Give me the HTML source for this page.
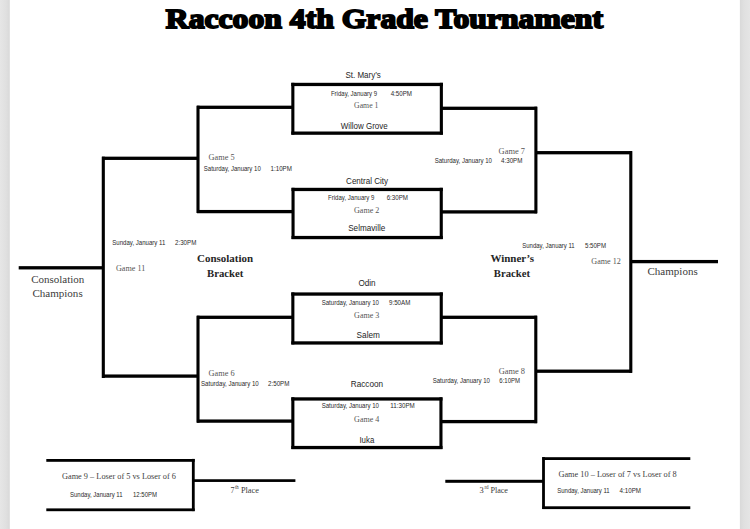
<!DOCTYPE html><html><head><meta charset="utf-8"><style>html,body{margin:0;padding:0;background:#fff;width:750px;height:529px;overflow:hidden}svg{display:block}</style></head><body>
<svg width="750" height="529" viewBox="0 0 750 529">
<rect x="0" y="0" width="750" height="529" fill="#fff"/>
<defs><linearGradient id="gl" x1="0" x2="1" y1="0" y2="0"><stop offset="0" stop-color="#e6e6e6"/><stop offset="0.6" stop-color="#e0e0e0"/><stop offset="1" stop-color="#d9d9d9"/></linearGradient><linearGradient id="gr" x1="0" x2="1" y1="0" y2="0"><stop offset="0" stop-color="#d9d9d9"/><stop offset="0.4" stop-color="#e0e0e0"/><stop offset="1" stop-color="#e5e5e5"/></linearGradient></defs>
<rect x="0" y="0" width="9.8" height="529" fill="url(#gl)"/>
<rect x="739.9" y="0" width="10.1" height="529" fill="url(#gr)"/>
<rect x="291.30" y="82.80" width="151.60" height="3.30" fill="#000"/>
<rect x="291.30" y="131.50" width="151.60" height="3.30" fill="#000"/>
<rect x="291.30" y="82.80" width="3.10" height="51.80" fill="#000"/>
<rect x="439.80" y="82.80" width="3.10" height="51.80" fill="#000"/>
<rect x="291.50" y="187.80" width="151.30" height="3.30" fill="#000"/>
<rect x="291.50" y="235.90" width="151.30" height="3.30" fill="#000"/>
<rect x="291.50" y="187.80" width="3.10" height="51.20" fill="#000"/>
<rect x="439.70" y="187.80" width="3.10" height="51.20" fill="#000"/>
<rect x="291.30" y="292.40" width="151.50" height="3.30" fill="#000"/>
<rect x="291.30" y="341.30" width="151.50" height="3.30" fill="#000"/>
<rect x="291.30" y="292.40" width="3.10" height="52.00" fill="#000"/>
<rect x="439.70" y="292.40" width="3.10" height="52.00" fill="#000"/>
<rect x="291.30" y="397.30" width="151.20" height="3.30" fill="#000"/>
<rect x="291.30" y="445.90" width="151.20" height="3.30" fill="#000"/>
<rect x="291.30" y="397.30" width="3.10" height="51.70" fill="#000"/>
<rect x="439.40" y="397.30" width="3.10" height="51.70" fill="#000"/>
<rect x="197.00" y="105.65" width="95.00" height="3.30" fill="#000"/>
<rect x="196.45" y="105.70" width="3.10" height="107.30" fill="#000"/>
<rect x="197.00" y="209.95" width="95.00" height="3.30" fill="#000"/>
<rect x="102.00" y="156.65" width="97.00" height="3.30" fill="#000"/>
<rect x="101.75" y="156.70" width="3.10" height="221.30" fill="#000"/>
<rect x="102.00" y="374.45" width="97.00" height="3.30" fill="#000"/>
<rect x="197.00" y="315.65" width="95.00" height="3.30" fill="#000"/>
<rect x="196.45" y="315.70" width="3.10" height="107.00" fill="#000"/>
<rect x="197.00" y="419.45" width="95.00" height="3.30" fill="#000"/>
<rect x="18.70" y="266.15" width="85.30" height="3.30" fill="#000"/>
<rect x="442.00" y="106.65" width="95.00" height="3.30" fill="#000"/>
<rect x="534.35" y="106.70" width="3.10" height="106.60" fill="#000"/>
<rect x="442.00" y="210.25" width="95.00" height="3.30" fill="#000"/>
<rect x="535.00" y="151.05" width="97.00" height="3.30" fill="#000"/>
<rect x="629.25" y="151.10" width="3.10" height="221.70" fill="#000"/>
<rect x="535.00" y="369.55" width="97.00" height="3.30" fill="#000"/>
<rect x="442.00" y="315.65" width="95.00" height="3.30" fill="#000"/>
<rect x="534.25" y="315.70" width="3.10" height="107.50" fill="#000"/>
<rect x="442.00" y="419.95" width="95.00" height="3.30" fill="#000"/>
<rect x="631.00" y="259.95" width="87.00" height="3.30" fill="#000"/>
<rect x="46.30" y="459.00" width="148.40" height="2.80" fill="#000"/>
<rect x="46.30" y="508.40" width="148.40" height="2.80" fill="#000"/>
<rect x="191.90" y="458.90" width="2.80" height="52.20" fill="#000"/>
<rect x="193.00" y="479.25" width="102.40" height="2.70" fill="#000"/>
<rect x="542.40" y="457.20" width="147.90" height="2.80" fill="#000"/>
<rect x="542.40" y="506.30" width="147.90" height="2.80" fill="#000"/>
<rect x="542.10" y="457.10" width="2.80" height="51.90" fill="#000"/>
<rect x="445.30" y="479.80" width="98.70" height="3.00" fill="#000"/>
<text x="165.8" y="27.9" font-family='"Liberation Serif", serif' font-weight="bold" font-size="27.5" textLength="437.2" lengthAdjust="spacingAndGlyphs" fill="#000" stroke="#000" stroke-width="1.8">Raccoon 4th Grade Tournament</text>
<text x="345.4" y="78.1" font-family='"Liberation Sans", sans-serif' font-size="9.0" font-weight="normal" fill="#1e1e1e" textLength="35.4" lengthAdjust="spacingAndGlyphs" xml:space="preserve">St. Mary’s</text>
<text x="340.7" y="129.0" font-family='"Liberation Sans", sans-serif' font-size="9.0" font-weight="normal" fill="#1e1e1e" textLength="47.0" lengthAdjust="spacingAndGlyphs" xml:space="preserve">Willow Grove</text>
<text x="346.1" y="184.0" font-family='"Liberation Sans", sans-serif' font-size="9.0" font-weight="normal" fill="#1e1e1e" textLength="42.0" lengthAdjust="spacingAndGlyphs" xml:space="preserve">Central City</text>
<text x="348.2" y="231.3" font-family='"Liberation Sans", sans-serif' font-size="9.0" font-weight="normal" fill="#1e1e1e" textLength="37.1" lengthAdjust="spacingAndGlyphs" xml:space="preserve">Selmaville</text>
<text x="358.4" y="286.4" font-family='"Liberation Sans", sans-serif' font-size="9.0" font-weight="normal" fill="#1e1e1e" textLength="17.2" lengthAdjust="spacingAndGlyphs" xml:space="preserve">Odin</text>
<text x="356.6" y="338.1" font-family='"Liberation Sans", sans-serif' font-size="9.0" font-weight="normal" fill="#1e1e1e" textLength="23.3" lengthAdjust="spacingAndGlyphs" xml:space="preserve">Salem</text>
<text x="350.8" y="386.9" font-family='"Liberation Sans", sans-serif' font-size="9.0" font-weight="normal" fill="#1e1e1e" textLength="32.3" lengthAdjust="spacingAndGlyphs" xml:space="preserve">Raccoon</text>
<text x="359.4" y="442.6" font-family='"Liberation Sans", sans-serif' font-size="9.0" font-weight="normal" fill="#1e1e1e" textLength="14.9" lengthAdjust="spacingAndGlyphs" xml:space="preserve">Iuka</text>
<text x="330.9" y="96.0" font-family='"Liberation Sans", sans-serif' font-size="6.8" font-weight="normal" fill="#2a2a2a" textLength="46.2" lengthAdjust="spacingAndGlyphs" xml:space="preserve">Friday, January 9</text>
<text x="390.7" y="96.0" font-family='"Liberation Sans", sans-serif' font-size="6.8" font-weight="normal" fill="#2a2a2a" textLength="21.3" lengthAdjust="spacingAndGlyphs" xml:space="preserve">4:50PM</text>
<text x="328.0" y="200.1" font-family='"Liberation Sans", sans-serif' font-size="6.8" font-weight="normal" fill="#2a2a2a" textLength="46.4" lengthAdjust="spacingAndGlyphs" xml:space="preserve">Friday, January 9</text>
<text x="386.7" y="200.1" font-family='"Liberation Sans", sans-serif' font-size="6.8" font-weight="normal" fill="#2a2a2a" textLength="21.3" lengthAdjust="spacingAndGlyphs" xml:space="preserve">6:30PM</text>
<text x="321.7" y="304.5" font-family='"Liberation Sans", sans-serif' font-size="6.8" font-weight="normal" fill="#2a2a2a" textLength="57.3" lengthAdjust="spacingAndGlyphs" xml:space="preserve">Saturday, January 10</text>
<text x="389.0" y="304.5" font-family='"Liberation Sans", sans-serif' font-size="6.8" font-weight="normal" fill="#2a2a2a" textLength="21.3" lengthAdjust="spacingAndGlyphs" xml:space="preserve">9:50AM</text>
<text x="321.7" y="407.5" font-family='"Liberation Sans", sans-serif' font-size="6.8" font-weight="normal" fill="#2a2a2a" textLength="57.3" lengthAdjust="spacingAndGlyphs" xml:space="preserve">Saturday, January 10</text>
<text x="390.3" y="407.5" font-family='"Liberation Sans", sans-serif' font-size="6.8" font-weight="normal" fill="#2a2a2a" textLength="24.5" lengthAdjust="spacingAndGlyphs" xml:space="preserve">11:30PM</text>
<text x="203.8" y="170.5" font-family='"Liberation Sans", sans-serif' font-size="6.8" font-weight="normal" fill="#2a2a2a" textLength="57.0" lengthAdjust="spacingAndGlyphs" xml:space="preserve">Saturday, January 10</text>
<text x="270.6" y="170.5" font-family='"Liberation Sans", sans-serif' font-size="6.8" font-weight="normal" fill="#2a2a2a" textLength="21.3" lengthAdjust="spacingAndGlyphs" xml:space="preserve">1:10PM</text>
<text x="112.3" y="245.4" font-family='"Liberation Sans", sans-serif' font-size="6.8" font-weight="normal" fill="#2a2a2a" textLength="53.0" lengthAdjust="spacingAndGlyphs" xml:space="preserve">Sunday, January 11</text>
<text x="175.0" y="245.4" font-family='"Liberation Sans", sans-serif' font-size="6.8" font-weight="normal" fill="#2a2a2a" textLength="21.3" lengthAdjust="spacingAndGlyphs" xml:space="preserve">2:30PM</text>
<text x="201.0" y="386.2" font-family='"Liberation Sans", sans-serif' font-size="6.8" font-weight="normal" fill="#2a2a2a" textLength="57.7" lengthAdjust="spacingAndGlyphs" xml:space="preserve">Saturday, January 10</text>
<text x="268.0" y="386.2" font-family='"Liberation Sans", sans-serif' font-size="6.8" font-weight="normal" fill="#2a2a2a" textLength="21.4" lengthAdjust="spacingAndGlyphs" xml:space="preserve">2:50PM</text>
<text x="434.7" y="163.3" font-family='"Liberation Sans", sans-serif' font-size="6.8" font-weight="normal" fill="#2a2a2a" textLength="57.3" lengthAdjust="spacingAndGlyphs" xml:space="preserve">Saturday, January 10</text>
<text x="501.0" y="163.3" font-family='"Liberation Sans", sans-serif' font-size="6.8" font-weight="normal" fill="#2a2a2a" textLength="21.4" lengthAdjust="spacingAndGlyphs" xml:space="preserve">4:30PM</text>
<text x="432.7" y="383.2" font-family='"Liberation Sans", sans-serif' font-size="6.8" font-weight="normal" fill="#2a2a2a" textLength="57.3" lengthAdjust="spacingAndGlyphs" xml:space="preserve">Saturday, January 10</text>
<text x="499.3" y="383.2" font-family='"Liberation Sans", sans-serif' font-size="6.8" font-weight="normal" fill="#2a2a2a" textLength="20.7" lengthAdjust="spacingAndGlyphs" xml:space="preserve">6:10PM</text>
<text x="522.3" y="247.7" font-family='"Liberation Sans", sans-serif' font-size="6.8" font-weight="normal" fill="#2a2a2a" textLength="52.4" lengthAdjust="spacingAndGlyphs" xml:space="preserve">Sunday, January 11</text>
<text x="585.0" y="247.7" font-family='"Liberation Sans", sans-serif' font-size="6.8" font-weight="normal" fill="#2a2a2a" textLength="21.0" lengthAdjust="spacingAndGlyphs" xml:space="preserve">5:50PM</text>
<text x="70.0" y="497.0" font-family='"Liberation Sans", sans-serif' font-size="6.8" font-weight="normal" fill="#2a2a2a" textLength="52.6" lengthAdjust="spacingAndGlyphs" xml:space="preserve">Sunday, January 11</text>
<text x="133.0" y="497.0" font-family='"Liberation Sans", sans-serif' font-size="6.8" font-weight="normal" fill="#2a2a2a" textLength="24.0" lengthAdjust="spacingAndGlyphs" xml:space="preserve">12:50PM</text>
<text x="557.3" y="492.6" font-family='"Liberation Sans", sans-serif' font-size="6.8" font-weight="normal" fill="#2a2a2a" textLength="52.4" lengthAdjust="spacingAndGlyphs" xml:space="preserve">Sunday, January 11</text>
<text x="619.6" y="492.6" font-family='"Liberation Sans", sans-serif' font-size="6.8" font-weight="normal" fill="#2a2a2a" textLength="21.4" lengthAdjust="spacingAndGlyphs" xml:space="preserve">4:10PM</text>
<text x="354.1" y="107.6" font-family='"Liberation Serif", serif' font-size="8.6" font-weight="normal" fill="#555555" textLength="24.3" lengthAdjust="spacingAndGlyphs" xml:space="preserve">Game 1</text>
<text x="354.0" y="213.2" font-family='"Liberation Serif", serif' font-size="8.6" font-weight="normal" fill="#555555" textLength="25.3" lengthAdjust="spacingAndGlyphs" xml:space="preserve">Game 2</text>
<text x="354.1" y="317.6" font-family='"Liberation Serif", serif' font-size="8.6" font-weight="normal" fill="#555555" textLength="25.2" lengthAdjust="spacingAndGlyphs" xml:space="preserve">Game 3</text>
<text x="354.1" y="422.4" font-family='"Liberation Serif", serif' font-size="8.6" font-weight="normal" fill="#555555" textLength="25.2" lengthAdjust="spacingAndGlyphs" xml:space="preserve">Game 4</text>
<text x="208.6" y="160.4" font-family='"Liberation Serif", serif' font-size="8.6" font-weight="normal" fill="#555555" textLength="26.0" lengthAdjust="spacingAndGlyphs" xml:space="preserve">Game 5</text>
<text x="208.6" y="376.2" font-family='"Liberation Serif", serif' font-size="8.6" font-weight="normal" fill="#555555" textLength="26.0" lengthAdjust="spacingAndGlyphs" xml:space="preserve">Game 6</text>
<text x="498.6" y="153.7" font-family='"Liberation Serif", serif' font-size="8.6" font-weight="normal" fill="#555555" textLength="26.4" lengthAdjust="spacingAndGlyphs" xml:space="preserve">Game 7</text>
<text x="498.7" y="373.5" font-family='"Liberation Serif", serif' font-size="8.6" font-weight="normal" fill="#555555" textLength="26.3" lengthAdjust="spacingAndGlyphs" xml:space="preserve">Game 8</text>
<text x="116.0" y="271.0" font-family='"Liberation Serif", serif' font-size="8.6" font-weight="normal" fill="#555555" textLength="29.2" lengthAdjust="spacingAndGlyphs" xml:space="preserve">Game 11</text>
<text x="591.3" y="264.0" font-family='"Liberation Serif", serif' font-size="8.6" font-weight="normal" fill="#555555" textLength="29.5" lengthAdjust="spacingAndGlyphs" xml:space="preserve">Game 12</text>
<text x="31.2" y="282.9" font-family='"Liberation Serif", serif' font-size="10.5" font-weight="normal" fill="#3c3c3c" textLength="53.2" lengthAdjust="spacingAndGlyphs" xml:space="preserve">Consolation</text>
<text x="32.4" y="297.2" font-family='"Liberation Serif", serif' font-size="10.5" font-weight="normal" fill="#3c3c3c" textLength="50.3" lengthAdjust="spacingAndGlyphs" xml:space="preserve">Champions</text>
<text x="647.5" y="274.5" font-family='"Liberation Serif", serif' font-size="10.5" font-weight="normal" fill="#3c3c3c" textLength="50.2" lengthAdjust="spacingAndGlyphs" xml:space="preserve">Champions</text>
<text x="197.0" y="262.0" font-family='"Liberation Serif", serif' font-size="10.5" font-weight="bold" fill="#262626" textLength="56.0" lengthAdjust="spacingAndGlyphs" xml:space="preserve">Consolation</text>
<text x="207.0" y="277.0" font-family='"Liberation Serif", serif' font-size="10.5" font-weight="bold" fill="#262626" textLength="36.4" lengthAdjust="spacingAndGlyphs" xml:space="preserve">Bracket</text>
<text x="490.4" y="262.2" font-family='"Liberation Serif", serif' font-size="10.5" font-weight="bold" fill="#262626" textLength="43.6" lengthAdjust="spacingAndGlyphs" xml:space="preserve">Winner’s</text>
<text x="493.8" y="276.5" font-family='"Liberation Serif", serif' font-size="10.5" font-weight="bold" fill="#262626" textLength="36.2" lengthAdjust="spacingAndGlyphs" xml:space="preserve">Bracket</text>
<text x="62.0" y="478.9" font-family='"Liberation Serif", serif' font-size="8.6" font-weight="normal" fill="#404040" textLength="114.0" lengthAdjust="spacingAndGlyphs" xml:space="preserve">Game 9 – Loser of 5 vs Loser of 6</text>
<text x="558.4" y="476.7" font-family='"Liberation Serif", serif' font-size="8.6" font-weight="normal" fill="#404040" textLength="118.3" lengthAdjust="spacingAndGlyphs" xml:space="preserve">Game 10 – Loser of 7 vs Loser of 8</text>
<text x="230.6" y="492.7" font-family='"Liberation Serif", serif' font-size="8.6" fill="#3a3a3a" textLength="4.0" lengthAdjust="spacingAndGlyphs">7</text>
<text x="234.9" y="489.0" font-family='"Liberation Serif", serif' font-size="5.6" fill="#3a3a3a" textLength="3.7" lengthAdjust="spacingAndGlyphs">th</text>
<text x="240.9" y="492.7" font-family='"Liberation Serif", serif' font-size="8.6" fill="#3a3a3a" textLength="18.1" lengthAdjust="spacingAndGlyphs">Place</text>
<text x="479.6" y="492.7" font-family='"Liberation Serif", serif' font-size="8.6" fill="#3a3a3a" textLength="4.2" lengthAdjust="spacingAndGlyphs">3</text>
<text x="484.4" y="489.0" font-family='"Liberation Serif", serif' font-size="5.6" fill="#3a3a3a" textLength="4.2" lengthAdjust="spacingAndGlyphs">rd</text>
<text x="490.4" y="492.7" font-family='"Liberation Serif", serif' font-size="8.6" fill="#3a3a3a" textLength="17.6" lengthAdjust="spacingAndGlyphs">Place</text>
</svg></body></html>
